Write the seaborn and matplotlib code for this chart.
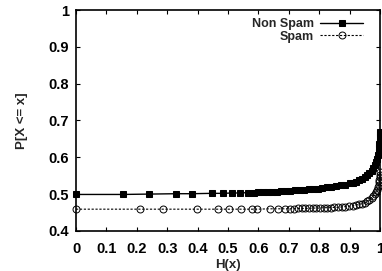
import matplotlib
matplotlib.use('Agg')
from matplotlib import pyplot as plt
import seaborn as sns
import pandas as pd

sns.set_style("ticks")
plt.rcParams['font.family'] = ['Liberation Sans', 'DejaVu Sans']
plt.rcParams['font.weight'] = 'bold'

# Non Spam CDF points
nonspam_x = [0.0, 0.155, 0.24, 0.33, 0.38, 0.447, 0.484, 0.513, 0.54, 0.565,
             0.585, 0.6, 0.615, 0.63, 0.645, 0.66, 0.675, 0.69, 0.705, 0.72,
             0.735, 0.75, 0.765, 0.78, 0.795, 0.81, 0.825, 0.84, 0.855, 0.87,
             0.885, 0.9, 0.91, 0.92, 0.93, 0.94, 0.95, 0.958, 0.965, 0.972,
             0.978, 0.983, 0.987, 0.99, 0.993, 0.995, 0.997, 0.998, 0.999, 1.0,
             1.0, 1.0]
nonspam_y = [0.499, 0.499, 0.5, 0.501, 0.501, 0.502, 0.502, 0.503, 0.503, 0.504,
             0.504, 0.505, 0.505, 0.506, 0.506, 0.507, 0.508, 0.508, 0.509, 0.51,
             0.511, 0.512, 0.513, 0.514, 0.515, 0.516, 0.518, 0.52, 0.522, 0.524,
             0.526, 0.529, 0.531, 0.534, 0.537, 0.541, 0.546, 0.551, 0.557, 0.564,
             0.572, 0.58, 0.588, 0.596, 0.605, 0.615, 0.625, 0.635, 0.645, 0.655,
             0.662, 0.668]

# Spam CDF points
spam_x = [0.0, 0.21, 0.285, 0.397, 0.466, 0.504, 0.542, 0.578, 0.594, 0.638,
          0.665, 0.688, 0.704, 0.717, 0.73, 0.742, 0.754, 0.766, 0.778, 0.79,
          0.802, 0.814, 0.826, 0.838, 0.85, 0.862, 0.874, 0.886, 0.898, 0.91,
          0.92, 0.93, 0.94, 0.95, 0.958, 0.965, 0.972, 0.978, 0.983, 0.987,
          0.99, 0.993, 0.995, 0.997, 0.998, 0.999, 1.0, 1.0]
spam_y = [0.459, 0.459, 0.459, 0.459, 0.459, 0.459, 0.459, 0.459, 0.459, 0.46,
          0.46, 0.46, 0.46, 0.46, 0.461, 0.461, 0.461, 0.461, 0.462, 0.462,
          0.462, 0.463, 0.463, 0.463, 0.464, 0.464, 0.465, 0.466, 0.467, 0.468,
          0.47, 0.472, 0.474, 0.477, 0.481, 0.485, 0.49, 0.495, 0.5, 0.506,
          0.512, 0.518, 0.525, 0.532, 0.539, 0.546, 0.553, 0.56]

x_ticks = [0, 0.1, 0.2, 0.3, 0.4, 0.5, 0.6, 0.7, 0.8, 0.9, 1]
x_labels = ['0', '0.1', '0.2', '0.3', '0.4', '0.5', '0.6', '0.7', '0.8', '0.9', '1']
y_ticks = [0.4, 0.5, 0.6, 0.7, 0.8, 0.9, 1]
y_labels = ['0.4', '0.5', '0.6', '0.7', '0.8', '0.9', '1']


def main():
    df_non = pd.DataFrame({'x': nonspam_x, 'y': nonspam_y})
    df_spam = pd.DataFrame({'x': spam_x, 'y': spam_y})

    fig = plt.figure(figsize=(3.82, 2.71), dpi=100)
    ax = fig.add_axes([0.199, 0.148, 0.796, 0.815])

    sns.lineplot(data=df_non, x='x', y='y', ax=ax, color='black', lw=1,
                 marker='s', markersize=5, markeredgecolor='black',
                 markerfacecolor='black', estimator=None, sort=False,
                 label='Non Spam', clip_on=False)
    sns.lineplot(data=df_spam, x='x', y='y', ax=ax, color='black', lw=0.8,
                 linestyle=(0, (2, 1.5)), marker='o', markersize=5,
                 markeredgecolor='black', markerfacecolor='none',
                 markeredgewidth=0.7, estimator=None, sort=False,
                 label='Spam', clip_on=False)

    ax.set_xlim(0, 1)
    ax.set_ylim(0.4, 1)
    ax.set_xticks(x_ticks)
    ax.set_xticklabels(x_labels)
    ax.set_yticks(y_ticks)
    ax.set_yticklabels(y_labels)
    ax.tick_params(direction='in', length=3, width=0.8, top=True, right=True,
                   labelsize=10.5, colors='black')
    ax.tick_params(axis='x', pad=8)
    ax.tick_params(axis='y', pad=5)
    for lbl in ax.get_xticklabels() + ax.get_yticklabels():
        lbl.set_fontweight('bold')
    for sp in ax.spines.values():
        sp.set_linewidth(1.2)
        sp.set_color('black')

    ax.set_xlabel('H(x)', fontsize=9.5, fontweight='bold', labelpad=2)
    ax.set_ylabel('P[X <= x]', fontsize=9.5, fontweight='bold', labelpad=15)

    leg = ax.legend(loc='upper right', bbox_to_anchor=(0.97, 1.0),
                    markerfirst=False, frameon=False, fontsize=9,
                    handlelength=3.4, borderpad=0.15, labelspacing=0.05,
                    handletextpad=0.5)
    for t in leg.get_texts():
        t.set_fontweight('bold')
        t.set_ha('right')

    fig.savefig('out.png', dpi=100)


if __name__ == '__main__':
    main()
